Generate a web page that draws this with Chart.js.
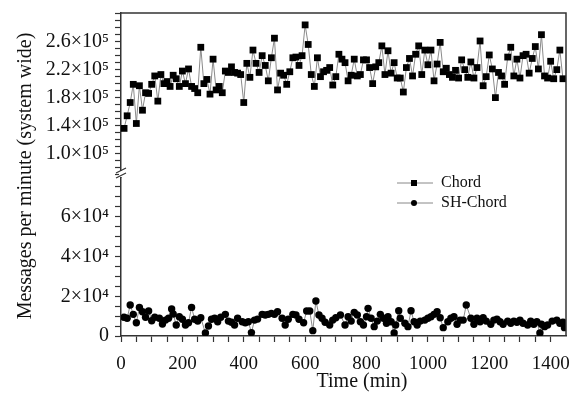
<!DOCTYPE html>
<html>
<head>
<meta charset="utf-8">
<script src="https://cdn.jsdelivr.net/npm/chart.js@4.4.1/dist/chart.umd.min.js"></script>
<style>
  html, body { margin: 0; padding: 0; background: #fff; }
</style>
</head>
<body>
<canvas id="chart" width="579" height="407"></canvas>
<script>
// Chord: one sample every 10 min, values in thousands of messages per minute
const chordTime = [
  10, 20, 30, 40, 50, 60, 70, 80, 90, 100, 110, 120, 130, 140, 150, 160,
  170, 180, 190, 200, 210, 220, 230, 240, 250, 260, 270, 280, 290, 300, 310, 320,
  330, 340, 350, 360, 370, 380, 390, 400, 410, 420, 430, 440, 450, 460, 470, 480,
  490, 500, 510, 520, 530, 540, 550, 560, 570, 580, 590, 600, 610, 620, 630, 640,
  650, 660, 670, 680, 690, 700, 710, 720, 730, 740, 750, 760, 770, 780, 790, 800,
  810, 820, 830, 840, 850, 860, 870, 880, 890, 900, 910, 920, 930, 940, 950, 960,
  970, 980, 990, 1000, 1010, 1020, 1030, 1040, 1050, 1060, 1070, 1080, 1090, 1100, 1110, 1120,
  1130, 1140, 1150, 1160, 1170, 1180, 1190, 1200, 1210, 1220, 1230, 1240, 1250, 1260, 1270, 1280,
  1290, 1300, 1310, 1320, 1330, 1340, 1350, 1360, 1370, 1380, 1390, 1400, 1410, 1420, 1430, 1440
];
const chordK = [
  136, 154, 173, 199, 143, 197, 162, 187, 186, 199,
  211, 175, 213, 200, 203, 196, 212, 207, 196, 218,
  200, 221, 196, 193, 187, 252, 200, 206, 185, 235,
  191, 196, 187, 218, 216, 224, 216, 215, 213, 173,
  229, 209, 248, 229, 216, 240, 226, 204, 237, 265,
  191, 215, 212, 199, 217, 237, 238, 226, 240, 284,
  256, 213, 196, 237, 210, 217, 219, 223, 198, 210,
  242, 235, 230, 204, 212, 235, 211, 213, 234, 234,
  223, 200, 224, 230, 254, 213, 247, 215, 230, 208,
  208, 188, 223, 236, 211, 242, 254, 213, 248, 227,
  248, 204, 228, 259, 217, 222, 213, 209, 219, 208,
  234, 220, 209, 231, 208, 223, 261, 197, 210, 241,
  221, 180, 216, 211, 199, 238, 252, 211, 235, 208,
  240, 242, 215, 236, 253, 221, 270, 211, 208, 232,
  207, 220, 248, 207
];

// SH-Chord: times (min), values in thousands
const shTime = [
  10, 20, 30, 40, 50, 60, 70, 80, 90, 100,
  110, 125, 135, 145, 155, 165, 170, 180, 190, 200,
  210, 220, 230, 240, 250, 260, 275, 285, 295, 305,
  315, 325, 340, 350, 360, 370, 380, 395, 405, 415,
  425, 435, 445, 460, 470, 480, 490, 500, 510, 525,
  535, 545, 560, 570, 580, 595, 605, 615, 625, 635,
  645, 655, 665, 680, 690, 700,
  715, 730, 740, 750, 760, 770, 780, 790, 800, 805,
  815, 825, 835, 845, 855, 865, 870, 880, 890, 895,
  905, 910, 925, 935, 945, 955, 965, 975, 990, 1000,
  1010, 1020, 1030, 1040, 1050, 1065, 1075, 1085, 1095, 1105,
  1115, 1125, 1140, 1150, 1160, 1170, 1180, 1190, 1205, 1215,
  1225, 1235, 1245, 1260, 1270, 1280, 1290, 1300, 1310, 1325,
  1335, 1345, 1355, 1365, 1370, 1380, 1390, 1405, 1420, 1430,
  1440, 1445
];
const shK = [
  9.4, 8.9, 15.6, 10.9, 6.7, 14.4, 12.2, 9.4, 12.6, 7.7,
  9.4, 8.9, 6.0, 8.0, 8.9, 13.6, 11.1, 5.5, 9.7, 8.4,
  5.5, 6.7, 14.4, 8.4, 7.5, 9.2, 1.5, 5.0, 8.4, 8.9,
  7.2, 9.4, 10.9, 7.5, 6.9, 5.5, 8.9, 7.2, 6.7, 7.2,
  1.7, 8.0, 8.5, 10.9, 10.6, 10.9, 11.4, 10.9, 12.2, 8.9,
  5.5, 8.4, 10.9, 10.6, 8.4, 6.7, 12.6, 12.6, 2.7, 17.6,
  10.6, 8.9, 6.9, 5.5, 8.0, 9.2,
  10.6, 5.5, 9.7, 7.5, 11.9, 10.6, 7.2, 5.5, 9.7, 13.9,
  8.9, 4.7, 7.5, 10.9, 8.9, 6.4, 9.7, 7.2, 1.5, 5.5,
  12.7, 8.9, 6.4, 4.7, 12.7, 7.2, 5.5, 7.5, 8.0, 8.9,
  9.7, 10.9, 12.2, 9.2, 4.2, 7.2, 8.9, 9.7, 5.9, 8.0,
  8.0, 15.6, 8.9, 5.9, 8.9, 7.2, 9.2, 7.5, 5.9, 8.0,
  8.5, 7.2, 5.9, 7.5, 6.4, 7.5, 6.9, 8.0, 6.4, 5.5,
  7.5, 5.9, 7.2, 1.5, 5.9, 4.7, 5.5, 7.5, 8.0, 6.4,
  6.9, 4.2
];

// labelled ticks
const xTickLabels = [0, 200, 400, 600, 800, 1000, 1200, 1400];
const lowTicks = [0, 20000, 40000, 60000];
const lowTickLabels = ['0', '2×10⁴', '4×10⁴', '6×10⁴'];
const highTicks = [100000, 140000, 180000, 220000, 260000];
const highTickLabels = ['1.0×10⁵', '1.4×10⁵', '1.8×10⁵', '2.2×10⁵', '2.6×10⁵'];

const toPoints = (t, v) => t.map((x, i) => ({ x: x, y: v[i] * 1000 }));

// minor tick marks every `step` inside [lo, hi]
const tickRange = (lo, hi, step) => {
  const out = [];
  for (let v = Math.ceil(lo / step) * step; v <= hi; v += step) out.push({ value: v });
  return out;
};

const serif = "'Liberation Serif', 'Times New Roman', serif";
const ink = '#111';
const axisCol = '#333';

Chart.defaults.font.family = serif;
Chart.defaults.color = ink;

const decor = {
  id: 'decor',
  afterDraw(chart) {
    const { ctx, chartArea: a, scales } = chart;
    ctx.save();

    // frame top + right
    ctx.strokeStyle = axisCol;
    ctx.lineWidth = 1.5;
    ctx.beginPath();
    ctx.moveTo(a.left, a.top);
    ctx.lineTo(a.right, a.top);
    ctx.lineTo(a.right, a.bottom);
    ctx.stroke();

    // axis break
    const yb = scales.yBot.top;
    ctx.fillStyle = '#fff';
    ctx.fillRect(a.left - 2, yb - 6, 4, 6);
    ctx.lineWidth = 1.2;
    ctx.beginPath();
    ctx.moveTo(a.left - 5, yb + 1); ctx.lineTo(a.left + 5, yb - 4);
    ctx.moveTo(a.left - 5, yb - 4); ctx.lineTo(a.left + 5, yb - 9);
    ctx.stroke();

    // axis titles
    ctx.fillStyle = ink;
    ctx.font = '20px ' + serif;
    ctx.textAlign = 'center';
    ctx.textBaseline = 'middle';
    ctx.fillText('Time (min)', 362, 382);
    ctx.translate(26, 176);
    ctx.rotate(-Math.PI / 2);
    ctx.fillText('Messages per minute (system wide)', 0, 0);
    ctx.setTransform(1, 0, 0, 1, 0, 0);

    // legend
    ctx.font = '16px ' + serif;
    ctx.textAlign = 'left';
    chart.data.datasets.forEach((ds, i) => {
      const y = 183 + i * 20;
      ctx.strokeStyle = '#888';
      ctx.lineWidth = 1;
      ctx.beginPath();
      ctx.moveTo(397, y); ctx.lineTo(433, y);
      ctx.stroke();
      ctx.fillStyle = '#000';
      if (ds.pointStyle === 'rect') {
        ctx.fillRect(411, y - 3, 6, 6);
      } else {
        ctx.beginPath();
        ctx.arc(414, y, 3, 0, Math.PI * 2);
        ctx.fill();
      }
      ctx.fillStyle = ink;
      ctx.fillText(ds.label, 441, y);
    });
    ctx.restore();
  }
};

const xFont = { size: 19, family: serif };
const yFont = { size: 20, family: serif };
const gridOpts = { drawOnChartArea: false, drawTicks: true, tickLength: 6, tickColor: axisCol, tickWidth: 1.2 };
const borderOpts = { display: true, color: axisCol, width: 1.5 };

const fixY = s => { s.width = 100; s.paddingTop = 0; s.paddingBottom = 0; };

new Chart(document.getElementById('chart'), {
  type: 'line',
  data: {
    datasets: [
      {
        label: 'Chord',
        data: toPoints(chordTime, chordK),
        yAxisID: 'yTop',
        borderColor: '#8a8a8a',
        borderWidth: 1,
        pointStyle: 'rect',
        pointRadius: 4.8,
        pointBackgroundColor: '#000',
        pointBorderColor: '#000',
        pointBorderWidth: 0,
        tension: 0
      },
      {
        label: 'SH-Chord',
        data: toPoints(shTime, shK),
        yAxisID: 'yBot',
        borderColor: '#8a8a8a',
        borderWidth: 1,
        pointStyle: 'circle',
        pointRadius: 3.7,
        pointBackgroundColor: '#000',
        pointBorderColor: '#000',
        pointBorderWidth: 0,
        tension: 0
      }
    ]
  },
  options: {
    responsive: false,
    animation: false,
    layout: { padding: { left: 21, top: 13, right: 13, bottom: 0 } },
    plugins: {
      legend: { display: false },
      tooltip: { enabled: false }
    },
    scales: {
      x: {
        type: 'linear',
        min: 0,
        max: 1450,
        grid: gridOpts,
        border: borderOpts,
        afterFit: s => { s.height = 71; s.paddingLeft = 0; s.paddingRight = 0; },
        afterBuildTicks: s => { s.ticks = tickRange(0, 1400, 50); },
        ticks: {
          autoSkip: false,
          maxRotation: 0,
          padding: 11,
          font: xFont,
          color: ink,
          callback: v => xTickLabels.includes(v) ? String(v) : ''
        }
      },
      yBot: {
        type: 'linear',
        position: 'left',
        stack: 'y',
        stackWeight: 159,
        min: 0,
        max: 80000,
        grid: gridOpts,
        border: borderOpts,
        afterFit: fixY,
        afterBuildTicks: s => { s.ticks = tickRange(0, 75000, 5000); },
        ticks: {
          autoSkip: false,
          padding: 6,
          font: yFont,
          color: ink,
          callback: v => lowTicks.includes(v) ? lowTickLabels[lowTicks.indexOf(v)] : ''
        }
      },
      yTop: {
        type: 'linear',
        position: 'left',
        stack: 'y',
        stackWeight: 164,
        min: 66500,
        max: 301000,
        grid: gridOpts,
        border: borderOpts,
        afterFit: fixY,
        afterBuildTicks: s => { s.ticks = tickRange(70000, 300000, 10000); },
        ticks: {
          autoSkip: false,
          padding: 6,
          font: yFont,
          color: ink,
          callback: v => highTicks.includes(v) ? highTickLabels[highTicks.indexOf(v)] : ''
        }
      }
    }
  },
  plugins: [decor]
});
</script>
</body>
</html>
